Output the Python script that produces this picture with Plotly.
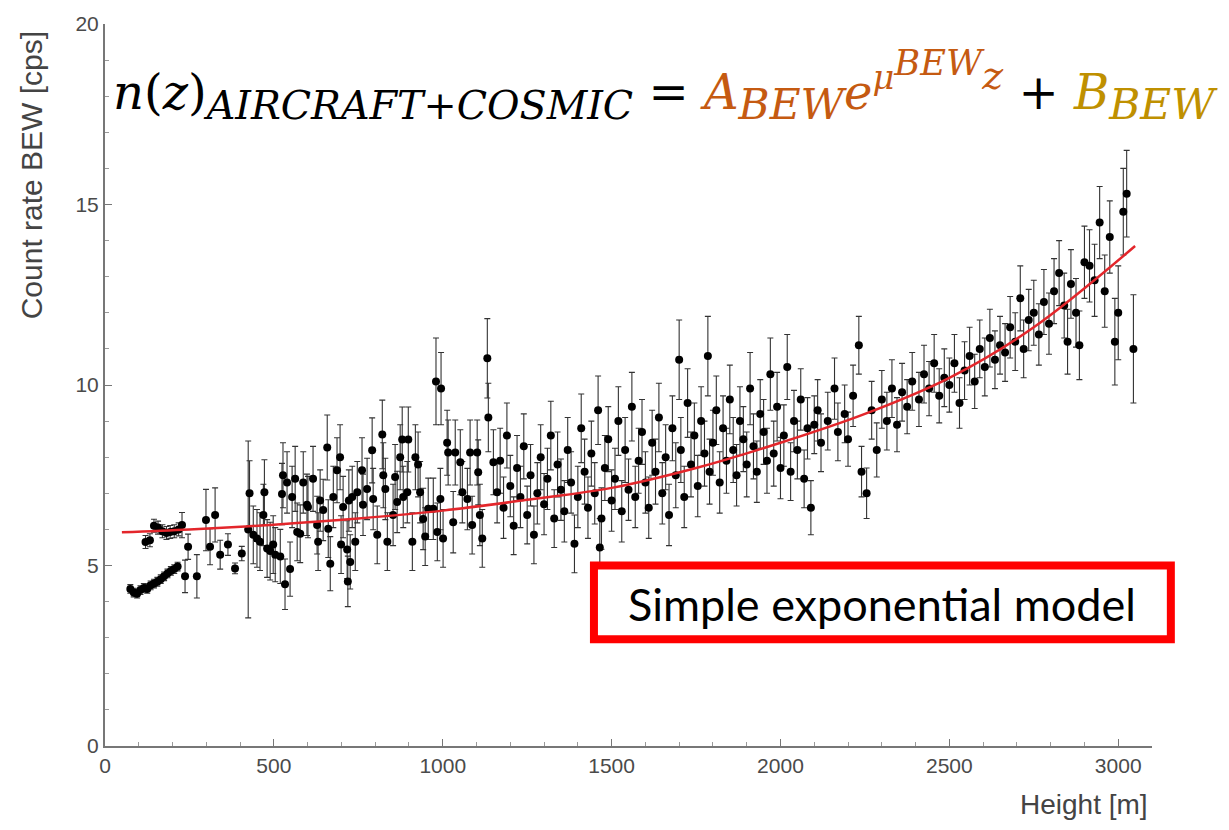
import plotly.graph_objects as go

# ---- data ----
height_m = [
    75, 85, 95, 105, 115, 125, 135, 145, 155, 165, 175, 185, 195, 205, 215,
    120, 133, 145, 157, 170, 182, 193, 205, 218, 228,
    237, 246, 272, 299, 311, 326, 341, 364, 385, 405, 424, 428,
    439, 450, 459, 469, 472, 480, 489, 498, 504, 519, 524, 527, 533, 539, 548, 554, 563, 569, 578, 587,
    598, 601, 616, 628, 631, 637, 646, 658, 661, 667, 676, 687, 696, 699, 705, 717, 719, 722, 726, 732,
    741, 747, 761, 764, 776, 791, 794, 806, 821, 824, 830, 836, 853, 859, 865, 874, 880, 883, 895, 898,
    910, 919, 927, 933, 942, 948, 957, 972, 980, 984, 993, 995, 1001, 1013, 1016, 1031, 1037, 1052, 1058,
    1073, 1081, 1087, 1102, 1105, 1110, 1117, 1132, 1135, 1150, 1161,
    1170, 1180, 1190, 1200, 1210, 1220, 1230, 1240, 1250, 1260, 1270, 1280, 1290, 1300, 1310, 1320, 1330,
    1340, 1350, 1360, 1370, 1380, 1390, 1400, 1410, 1420, 1430, 1440, 1450, 1460, 1465, 1470, 1480, 1490, 1500,
    1510, 1520, 1530, 1540, 1550, 1560, 1570, 1580, 1590, 1600, 1610, 1620, 1630, 1640, 1650, 1660, 1670,
    1680, 1690, 1700, 1705, 1715, 1725, 1735, 1745, 1755, 1765, 1775, 1785, 1790, 1800, 1810, 1820, 1830,
    1840, 1850, 1860, 1870, 1880, 1890, 1900, 1910, 1920, 1930, 1940, 1950, 1960, 1970, 1980, 1990, 2000,
    2010, 2020, 2030, 2040, 2050, 2060, 2070, 2080, 2090, 2100, 2110, 2120, 2140, 2160, 2170, 2190, 2200,
    2215, 2232, 2240, 2255, 2270, 2285, 2300, 2315, 2330, 2345, 2360, 2375, 2390,
    2410, 2425, 2440, 2455, 2470, 2485, 2500, 2515, 2530, 2545, 2560, 2575, 2590, 2605, 2620, 2635, 2650,
    2665, 2680, 2695, 2710, 2720, 2735, 2750, 2765, 2780, 2795,
    2810, 2825, 2840, 2850, 2860, 2875, 2885, 2900, 2915, 2930, 2945, 2960, 2975, 2990, 3000, 3015, 3025, 3045,
]
rate_cps = [
    4.35, 4.25, 4.22, 4.32, 4.38, 4.35, 4.45, 4.5, 4.55, 4.62, 4.7, 4.78, 4.85, 4.9, 4.97,
    5.65, 5.7, 6.1, 6.05, 5.95, 5.9, 5.93, 5.95, 6.0, 6.12,
    4.7, 5.52, 4.7, 6.26, 5.52, 6.4, 5.3, 5.58, 4.92, 5.33, 6.0, 7.0,
    5.85, 5.75, 5.66, 6.4, 7.03, 5.47, 5.4, 5.58, 5.3, 5.25, 6.98, 7.5, 4.48, 7.3, 4.9, 6.9, 7.4, 5.93, 5.88, 7.3,
    6.68, 6.62, 7.4, 6.12, 5.66, 6.8, 6.54, 8.27, 6.02, 5.05, 6.9, 7.64, 8.0, 5.58, 6.62, 5.44, 4.56, 6.8, 5.1, 6.9,
    5.66, 7.03, 7.64, 6.68, 7.12, 8.19, 6.84, 5.85, 8.63, 7.5, 7.12, 5.66, 6.4, 7.45, 6.76, 8.0, 8.49, 6.9, 7.03, 8.49,
    5.66, 8.0, 7.8, 7.03, 6.29, 5.8, 6.57, 6.57, 10.1, 5.93, 6.84, 9.9, 5.75, 8.4, 8.13, 6.2, 8.13, 7.86, 7.03,
    6.84, 8.13, 6.12, 8.13, 7.58, 6.4, 5.75, 10.74, 9.1, 7.86, 7.03,
    7.9, 6.6, 8.6, 7.2, 6.1, 7.7, 6.9, 8.3, 6.4, 7.5, 5.85, 7.0, 8.0, 6.7, 7.4, 8.6, 6.3,
    7.8, 7.1, 6.5, 8.2, 7.3, 5.6, 6.9, 8.8, 7.6, 6.6, 8.1, 7.0, 9.3, 5.5, 6.3, 7.7, 8.5, 6.8,
    7.4, 9.0, 6.5, 8.2, 7.1, 9.4, 6.9, 7.9, 8.7, 7.3, 6.6, 8.4, 7.6, 9.1, 7.0, 8.0, 6.4,
    8.8, 7.5, 10.7, 8.2, 6.9, 9.5, 7.8, 8.6, 7.2, 9.0, 8.1, 10.8, 7.6, 8.4, 9.3, 7.3, 8.8,
    7.9, 9.6, 8.2, 7.5, 9.0, 8.5, 7.8, 9.9, 8.3, 7.6, 9.2, 8.7, 7.9, 10.3, 8.1, 9.4, 7.7,
    8.6, 10.5, 7.6, 9.0, 8.2, 9.6, 7.4, 8.8, 6.6, 8.9, 9.3, 8.4, 9.0, 9.9, 8.7, 9.2, 8.5,
    9.7, 11.1, 7.6, 7.0, 9.3, 8.2, 9.6, 9.0, 9.9, 8.9, 9.8, 9.4, 10.1,
    9.6, 10.3, 9.9, 10.6, 9.7, 10.2, 10.0, 10.6, 9.5, 10.4, 10.8, 10.1, 11.0, 10.5, 11.3, 10.7, 11.1,
    10.9, 11.6, 11.2, 12.4, 11.0, 11.8, 12.0, 11.4, 12.3, 11.7,
    12.6, 13.1, 12.2, 11.2, 12.8, 12.0, 11.1, 13.4, 13.3, 12.9, 14.5, 12.6, 14.1, 11.2, 12.0, 14.8, 15.3, 11.0,
]
rate_err = [
    0.12, 0.12, 0.12, 0.12, 0.12, 0.12, 0.12, 0.12, 0.12, 0.12, 0.12, 0.12, 0.12, 0.12, 0.12,
    0.18, 0.18, 0.18, 0.18, 0.18, 0.18, 0.18, 0.18, 0.18, 0.35,
    0.45, 0.35, 0.6, 0.85, 0.5, 0.75, 0.4, 0.3, 0.15, 0.2, 2.45, 0.9,
    0.8, 0.8, 0.8, 0.85, 0.9, 0.8, 0.8, 0.8, 0.75, 0.75, 0.85, 0.9, 0.7, 0.85, 0.75, 0.85, 0.9, 0.8, 0.8, 0.85,
    0.85, 0.85, 0.9, 0.8, 0.8, 0.85, 0.85, 0.9, 0.8, 0.75, 0.85, 0.9, 0.9, 0.8, 0.85, 0.8, 0.7, 0.85, 0.75, 0.85,
    0.8, 0.85, 0.9, 0.85, 0.85, 0.9, 0.85, 0.8, 0.95, 0.9, 0.85, 0.8, 0.85, 0.9, 0.85, 0.9, 0.9, 0.85, 0.85, 0.9,
    0.8, 0.9, 0.9, 0.85, 0.85, 0.8, 0.85, 0.85, 1.2, 0.8, 0.85, 1.0, 0.8, 0.9, 0.9, 0.85, 0.9, 0.9, 0.85,
    0.85, 0.9, 0.8, 0.9, 0.9, 0.85, 0.8, 1.1, 0.95, 0.9, 0.85,
    0.9, 0.85, 0.9, 0.85, 0.8, 0.9, 0.85, 0.9, 0.8, 0.85, 0.8, 0.85, 0.9, 0.85, 0.85, 0.95, 0.8,
    0.9, 0.85, 0.85, 0.9, 0.85, 0.8, 0.85, 0.95, 0.9, 0.85, 0.9, 0.85, 0.95, 0.8, 0.85, 0.9, 0.9, 0.85,
    0.85, 0.95, 0.85, 0.9, 0.85, 0.95, 0.85, 0.9, 0.9, 0.85, 0.85, 0.9, 0.9, 0.95, 0.85, 0.9, 0.85,
    0.9, 0.9, 1.1, 0.9, 0.85, 0.95, 0.9, 0.9, 0.85, 0.95, 0.9, 1.1, 0.9, 0.9, 0.95, 0.85, 0.9,
    0.9, 0.95, 0.9, 0.85, 0.95, 0.9, 0.9, 1.0, 0.9, 0.85, 0.95, 0.9, 0.9, 1.0, 0.9, 0.95, 0.85,
    0.85, 0.9, 0.8, 0.85, 0.8, 0.85, 0.8, 0.85, 0.75, 0.8, 0.85, 0.8, 0.8, 0.85, 0.8, 0.8, 0.75,
    0.85, 0.8, 0.7, 0.7, 0.8, 0.75, 0.8, 0.8, 0.8, 0.75, 0.8, 0.75, 0.8,
    0.75, 0.8, 0.75, 0.8, 0.75, 0.8, 0.75, 0.8, 0.7, 0.8, 0.8, 0.75, 0.8, 0.8, 0.8, 0.8, 0.8,
    0.8, 0.85, 0.8, 0.9, 0.8, 0.85, 0.9, 0.85, 0.9, 0.85,
    0.9, 0.9, 0.9, 0.9, 0.95, 0.95, 0.95, 1.0, 1.0, 1.0, 1.0, 1.0, 1.0, 1.2, 1.3, 1.2, 1.2, 1.5,
]

fit_height = [50, 250, 500, 750, 1000, 1250, 1500, 1750, 2000, 2250, 2500, 2750, 3050]
fit_rate = [5.92, 6.0, 6.13, 6.3, 6.52, 6.82, 7.15, 7.7, 8.4, 9.2, 10.2, 11.6, 13.85]

x_ticks = [0, 500, 1000, 1500, 2000, 2500, 3000]
y_ticks = [0, 5, 10, 15, 20]

fig = go.Figure()
fig.add_trace(go.Scatter(
    x=height_m, y=rate_cps, mode="markers",
    marker=dict(color="black", size=8),
    error_y=dict(type="data", array=rate_err, color="#333333", thickness=1.1, width=3),
    showlegend=False,
))
fig.add_trace(go.Scatter(
    x=fit_height, y=fit_rate, mode="lines", line=dict(color="#e3262b", width=2.5, shape="spline"),
    showlegend=False,
))

axis_font = dict(family="Liberation Sans, Arial, sans-serif", size=21, color="#4a4a4a")
fig.update_xaxes(
    range=[0, 3100], tickvals=x_ticks, ticks="inside", ticklen=7, tickcolor="#777",
    showline=True, linecolor="#777", linewidth=2, showgrid=False, zeroline=False,
    tickfont=axis_font, minor=dict(ticks="inside", dtick=100, ticklen=4, tickcolor="#999"),
)
fig.update_yaxes(
    range=[0, 20], tickvals=y_ticks, ticks="inside", ticklen=7, tickcolor="#777",
    showline=True, linecolor="#777", linewidth=2, showgrid=False, zeroline=False,
    tickfont=axis_font, minor=dict(ticks="inside", dtick=1, ticklen=4, tickcolor="#999"),
)

SUB = '<span style="font-size:118%">'
SUB2 = '<span style="font-size:126%">'
SUP2 = '<span style="font-size:150%">'
eq = ('<i>n</i>(<i>z</i>)<sub>' + SUB + '<i>AIRCRAFT+COSMIC</i></span></sub> = '
      '<span style="color:#c55a11"><i>A</i><sub>' + SUB2 + '<i>BEW</i></span></sub><i>e</i>'
      '<sup><i>μ</i><sup>' + SUP2 + '<i>BEW</i></span></sup>' + SUB + '<i>z</i></span></sup></span>'
      ' + '
      '<span style="color:#bf9000"><i>B</i><sub>' + SUB2 + '<i>BEW</i></span></sub></span>')

fig.add_annotation(xref="paper", yref="paper", x=0.006, y=0.915, xanchor="left", yanchor="middle",
                   text=eq, showarrow=False,
                   font=dict(family="DejaVu Serif, serif", size=48, color="black"))
fig.add_annotation(xref="paper", yref="paper", x=-0.0700, y=0.79, xanchor="center", yanchor="middle",
                   text="Count rate BEW [cps]", textangle=-90, showarrow=False,
                   font=dict(family="Liberation Sans, Arial, sans-serif", size=30, color="#444"))
fig.add_annotation(xref="paper", yref="paper", x=0.998, y=-0.081, xanchor="right", yanchor="middle",
                   text="Height [m]", showarrow=False,
                   font=dict(family="Liberation Sans, Arial, sans-serif", size=28, color="#444"))

fig.add_shape(type="rect", xref="paper", yref="paper", x0=0.467, x1=1.018, y0=0.148, y1=0.25,
              line=dict(color="#ff0000", width=8), fillcolor="white", layer="above")
fig.add_annotation(xref="paper", yref="paper", x=0.742, y=0.196, xanchor="center", yanchor="middle",
                   text="Simple exponential model", showarrow=False,
                   font=dict(family="Lato, sans-serif", size=45, color="black"))

fig.update_layout(
    width=1229, height=830, margin=dict(l=105, r=77, t=18, b=84),
    plot_bgcolor="white", paper_bgcolor="white",
)
fig.write_html("out.html")
